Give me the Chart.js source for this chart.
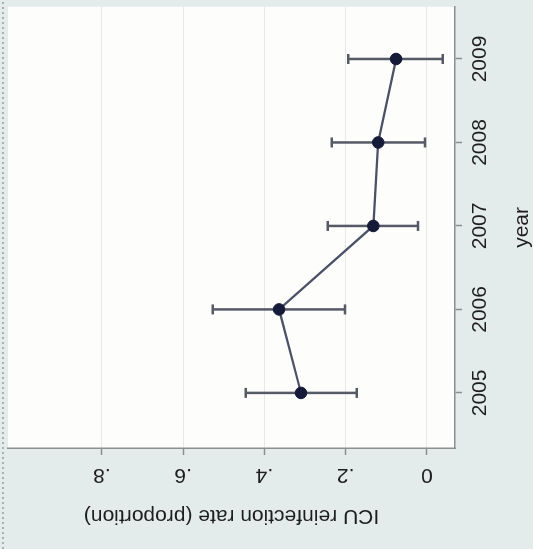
<!DOCTYPE html>
<html>
<head>
<meta charset="utf-8">
<script src="https://cdn.jsdelivr.net/npm/chart.js@4.4.1/dist/chart.umd.min.js"></script>
<style>
html,body{margin:0;padding:0;background:#e3ebeb;overflow:hidden;width:533px;height:549px}
/* the chart is drawn upright, then turned a quarter to the left like the photo */
#wrap{position:absolute;left:0;top:0;width:549px;height:533px;transform-origin:0 0;transform:translateY(549px) rotate(-90deg);filter:blur(0.55px)}
</style>
</head>
<body>
<div id="wrap"><canvas id="c" width="549" height="533"></canvas></div>
<script>
const years=[2005,2006,2007,2008,2009];
const rate=[0.310,0.364,0.132,0.120,0.076];
const ciLow=[0.173,0.202,0.022,0.005,-0.039];
const ciHigh=[0.446,0.527,0.244,0.234,0.194];
const rateTicks=[0,0.2,0.4,0.6,0.8];
const rateTickLabels=['0','.2','.4','.6','.8'];

const FONT='"Liberation Sans", Arial, sans-serif';
const TXT='#1e1e1e';
const AXIS='#8a9091';

const background={
 id:'background',
 beforeDraw(chart){
  const {ctx,chartArea:a}=chart;
  ctx.save();
  ctx.fillStyle='#e3ebeb';
  ctx.fillRect(0,0,chart.width,chart.height);
  ctx.fillStyle='#fdfdfc';
  ctx.fillRect(a.left,a.top,a.right-a.left,a.bottom-a.top);
  // dotted page edge
  ctx.strokeStyle='#a7b1b3';
  ctx.lineWidth=2;
  ctx.setLineDash([2,3]);
  ctx.beginPath();ctx.moveTo(0,3);ctx.lineTo(chart.width,3);ctx.stroke();
  ctx.restore();
 }
};

const errorBars={
 id:'errorBars',
 beforeDatasetsDraw(chart){
  const {ctx,scales:{x,y}}=chart;
  ctx.save();
  ctx.strokeStyle='#555a65';
  ctx.lineWidth=2.5;
  years.forEach((yr,i)=>{
   const px=x.getPixelForValue(yr);
   const lo=y.getPixelForValue(ciLow[i]);
   const hi=y.getPixelForValue(ciHigh[i]);
   ctx.beginPath();
   ctx.moveTo(px,lo);ctx.lineTo(px,hi);
   ctx.moveTo(px-5,lo);ctx.lineTo(px+5,lo);
   ctx.moveTo(px-5,hi);ctx.lineTo(px+5,hi);
   ctx.stroke();
  });
  ctx.restore();
 }
};

const rateLabels={
 id:'rateLabels',
 afterDraw(chart){
  const {ctx,scales:{y}}=chart;
  ctx.save();
  ctx.font='21px '+FONT;
  ctx.fillStyle=TXT;
  ctx.textAlign='center';
  ctx.textBaseline='middle';
  rateTicks.forEach((v,i)=>{
   ctx.save();
   ctx.translate(74,y.getPixelForValue(v));
   ctx.rotate(-Math.PI/2);
   ctx.fillText(rateTickLabels[i],0,0);
   ctx.restore();
  });
  ctx.restore();
 }
};

new Chart(document.getElementById('c'),{
 type:'scatter',
 data:{datasets:[{
  data:years.map((yr,i)=>({x:yr,y:rate[i]})),
  showLine:true,
  borderColor:'#4c5266',
  borderWidth:2.3,
  pointRadius:5.8,
  pointBackgroundColor:'#141a38',
  pointBorderColor:'#141a38',
  pointBorderWidth:1
 }]},
 options:{
  responsive:false,
  animation:false,
  layout:{padding:{top:8,left:0,right:0,bottom:0}},
  plugins:{legend:{display:false},tooltip:{enabled:false}},
  scales:{
   x:{
    type:'linear',min:2004.34,max:2009.625,
    afterBuildTicks:s=>{s.ticks=years.map(v=>({value:v}));},
    afterFit:s=>{s.height=78;},
    ticks:{color:TXT,font:{family:FONT,size:21,lineHeight:1},padding:8,maxRotation:0,callback:v=>String(v)},
    grid:{drawOnChartArea:false,drawTicks:true,tickLength:7,tickColor:AXIS,tickWidth:1.5},
    border:{display:true,color:AXIS,width:1.5},
    title:{display:true,text:'year',color:TXT,font:{family:FONT,size:21,lineHeight:1},padding:{top:-2,bottom:0}}
   },
   y:{
    type:'linear',min:-0.069,max:1.031,
    afterBuildTicks:s=>{s.ticks=rateTicks.map(v=>({value:v}));},
    afterFit:s=>{s.width=101;},
    ticks:{display:false},
    grid:{color:'rgba(190,196,198,0.35)',lineWidth:1,drawTicks:true,tickLength:7,tickColor:AXIS,tickWidth:1.5},
    border:{display:true,color:AXIS,width:1.5},
    title:{display:true,text:'ICU reinfection rate (proportion)',color:TXT,font:{family:FONT,size:21,lineHeight:1},padding:{top:23,bottom:0}}
   }
  }
 },
 plugins:[background,errorBars,rateLabels]
});
</script>
</body>
</html>
